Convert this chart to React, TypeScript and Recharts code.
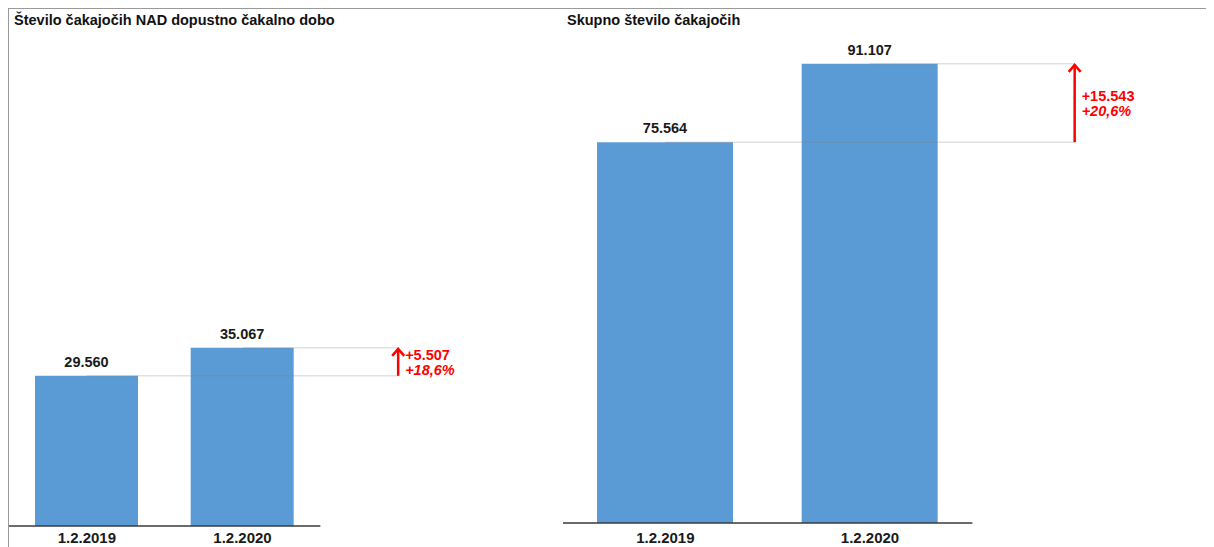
import React from 'react';
import { BarChart, Bar, XAxis, YAxis, LabelList, ReferenceLine } from 'recharts';

// dates on the x axis (same for both panels)
const categories = ['1.2.2019', '1.2.2020'];

// left panel: waiting beyond the allowed waiting time
const overLimitValues = [29560, 35067];
// right panel: total number of people waiting
const totalValues = [75564, 91107];

const titles = ['Število čakajočih NAD dopustno čakalno dobo', 'Skupno število čakajočih'];

const Y_MAX = 100000;
const FONT = '"Liberation Sans", Arial, sans-serif';
const BAR_COLOR = '#5B9BD5';
const RED = '#FF0000';

// 29560 -> "29.560"
const fmtThousands = (v: number) => String(Math.round(v)).replace(/\B(?=(\d{3})+(?!\d))/g, '.');
const fmtPct = (v: number) => v.toFixed(1).replace('.', ',') + '%';

interface PanelProps {
  values: number[];
  width: number;
  height: number;
  top: number;
  axisHeight: number;
  barSize: number;
  tickMargin: number;
}

function Panel({ values, width, height, top, axisHeight, barSize, tickMargin }: PanelProps) {
  const data = categories.map((c, i) => ({ x: i + 0.5, label: c, value: values[i] }));
  const first = values[0];
  const last = values[values.length - 1];
  const diff = last - first;
  const pct = (diff / first) * 100;
  const arrowX = categories.length + 0.5;

  const ArrowShape = (props: any) => {
    const { x1, y1, x2, y2 } = props;
    const mid = (y1 + y2) / 2;
    return (
      <g>
        <line x1={x1} y1={y1} x2={x2} y2={y2 + 1} stroke={RED} strokeWidth={2.5} />
        <polyline
          points={`${x2 - 6},${y2 + 8} ${x2},${y2 + 1} ${x2 + 6},${y2 + 8}`}
          fill="none"
          stroke={RED}
          strokeWidth={2.5}
        />
        <text x={x2 + 7} y={mid - 2} fill={RED} fontSize={14.5} fontWeight="bold" fontFamily={FONT}>
          {'+' + fmtThousands(diff)}
        </text>
        <text
          x={x2 + 7}
          y={mid + 13}
          fill={RED}
          fontSize={14.5}
          fontWeight="bold"
          fontStyle="italic"
          fontFamily={FONT}
        >
          {'+' + fmtPct(pct)}
        </text>
      </g>
    );
  };

  return (
    <BarChart width={width} height={height} data={data} margin={{ top, right: 0, bottom: 0, left: 0 }}>
      <XAxis
        type="number"
        dataKey="x"
        domain={[0, categories.length + 1]}
        ticks={data.map((d) => d.x)}
        tickFormatter={(v: number) => categories[Math.floor(v)]}
        axisLine={false}
        tickLine={false}
        tickMargin={tickMargin}
        height={axisHeight}
        tick={{ fill: '#1a1a1a', fontSize: 15, fontWeight: 'bold', fontFamily: FONT }}
        allowDataOverflow
      />
      <YAxis hide domain={[0, Y_MAX]} allowDataOverflow />
      <Bar dataKey="value" fill={BAR_COLOR} barSize={barSize} isAnimationActive={false}>
        <LabelList
          dataKey="value"
          position="top"
          offset={9}
          formatter={(v: any) => fmtThousands(Number(v))}
          style={{ fill: '#1a1a1a', fontSize: 14.5, fontWeight: 'bold', fontFamily: FONT }}
        />
      </Bar>
      {/* guide lines from each bar top to the arrow */}
      {data.map((d) => (
        <ReferenceLine
          key={d.label}
          segment={[
            { x: d.x, y: d.value },
            { x: arrowX, y: d.value },
          ]}
          stroke="#7f7f7f"
          strokeOpacity={0.35}
          strokeWidth={1}
        />
      ))}
      {/* baseline under the bars */}
      <ReferenceLine
        segment={[
          { x: 0, y: 0 },
          { x: categories.length, y: 0 },
        ]}
        stroke="#3a3a3a"
        strokeWidth={1.5}
      />
      <ReferenceLine
        segment={[
          { x: arrowX, y: first },
          { x: arrowX, y: last },
        ]}
        shape={ArrowShape}
      />
    </BarChart>
  );
}

export default function App() {
  return (
    <div
      style={{
        position: 'relative',
        width: 1206,
        height: 539,
        borderTop: '1px solid #9a9a9a',
        borderLeft: '1px solid #9a9a9a',
        boxSizing: 'border-box',
        fontFamily: FONT,
        background: '#fff',
      }}
    >
      <div style={{ position: 'absolute', left: 5, top: 3, fontSize: 14.5, lineHeight: '16px', fontWeight: 'bold', color: '#111' }}>
        {titles[0]}
      </div>
      <div style={{ position: 'absolute', left: 558, top: 3, fontSize: 14.5, lineHeight: '16px', fontWeight: 'bold', color: '#111' }}>
        {titles[1]}
      </div>
      <div style={{ position: 'absolute', left: 0, top: 0 }}>
        <Panel values={overLimitValues} width={467} height={538} top={9} axisHeight={21} barSize={103} tickMargin={0} />
      </div>
      <div style={{ position: 'absolute', left: 554, top: 0 }}>
        <Panel values={totalValues} width={614} height={538} top={10} axisHeight={24} barSize={136} tickMargin={3} />
      </div>
    </div>
  );
}
